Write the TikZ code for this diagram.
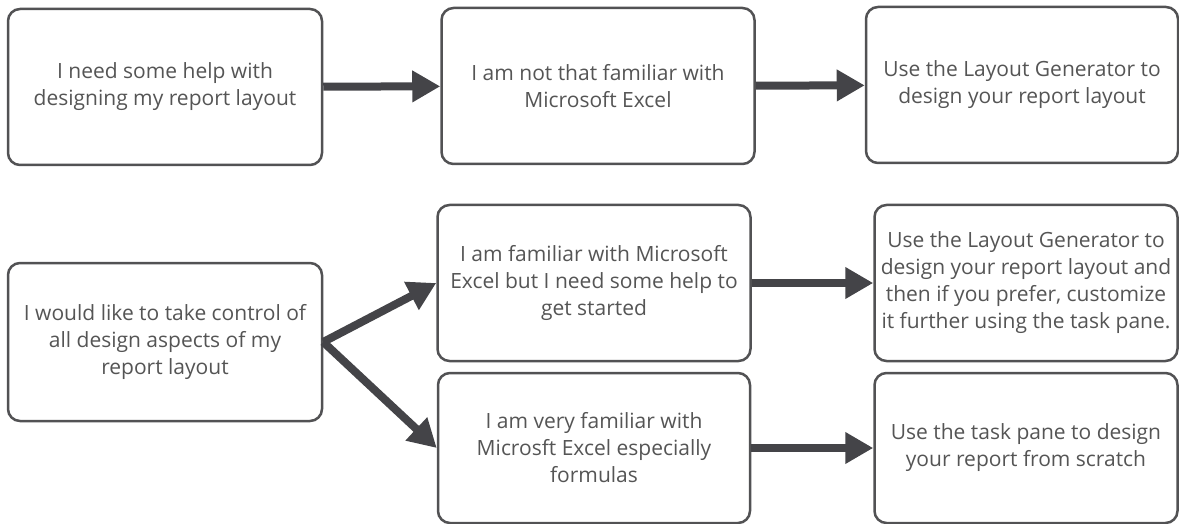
\documentclass[tikz,border=0pt]{standalone}
\usepackage{fontspec}
\setmainfont{Open Sans}
\usepackage{xcolor}
\usepackage{tikz}
\usetikzlibrary{arrows.meta}
\definecolor{boxgray}{RGB}{82, 82, 84}
\definecolor{textgray}{RGB}{85, 85, 85}
\definecolor{arrowgray}{RGB}{68, 68, 72}

\begin{document}
\begin{tikzpicture}[
    x=1pt, y=-1pt,
    choice/.style={rectangle, draw=boxgray, line width=2.5pt, fill=white, rounded corners=12pt, inner sep=0pt, align=center, text=textgray, font=\fontsize{21}{27}\selectfont},
    wide/.style={choice, minimum width=314pt, minimum height=156pt},
    answer/.style={choice, minimum width=303pt, minimum height=156pt},
    flow/.style={-{Triangle[length=28pt, width=30pt]}, line width=8pt, arrowgray}
]
    \useasboundingbox (0,0) rectangle (1179,524);

    % first question
    \node[wide] (need) at (165,87) {I need some help with\\designing my report layout};
    \node[wide, minimum width=313pt] (notfam) at (598,86) {I am not that familiar with\\Microsoft Excel};
    \node[wide, minimum width=312pt] (gen) at (1022,85) {Use the Layout Generator to\\design your report layout};

    % second question
    \node[wide, minimum height=158pt] (control) at (165,342) {I would like to take control of\\all design aspects of my\\report layout};
    \node[wide, minimum width=313pt] (fam) at (594,283) {I am familiar with Microsoft\\Excel but I need some help to\\get started};
    \node[wide, minimum width=312pt, minimum height=150pt] (veryfam) at (594,448) {I am very familiar with\\Microsft Excel especially\\formulas};
    \node[answer] (genpane) at (1026,283) {Use the Layout Generator to\\design your report layout and\\then if you prefer, customize\\it further using the task pane.};
    \node[answer, minimum height=150pt] (pane) at (1026,448) {Use the task pane to design\\your report from scratch};

    \draw[flow] (need) -- (notfam);
    \draw[flow] (notfam) -- (gen);
    \draw[flow] (control.east) -- (fam.west);
    \draw[flow] (control.east) -- (veryfam.west);
    \draw[flow] (fam) -- (genpane);
    \draw[flow] (veryfam) -- (pane);

\end{tikzpicture}
\end{document}
